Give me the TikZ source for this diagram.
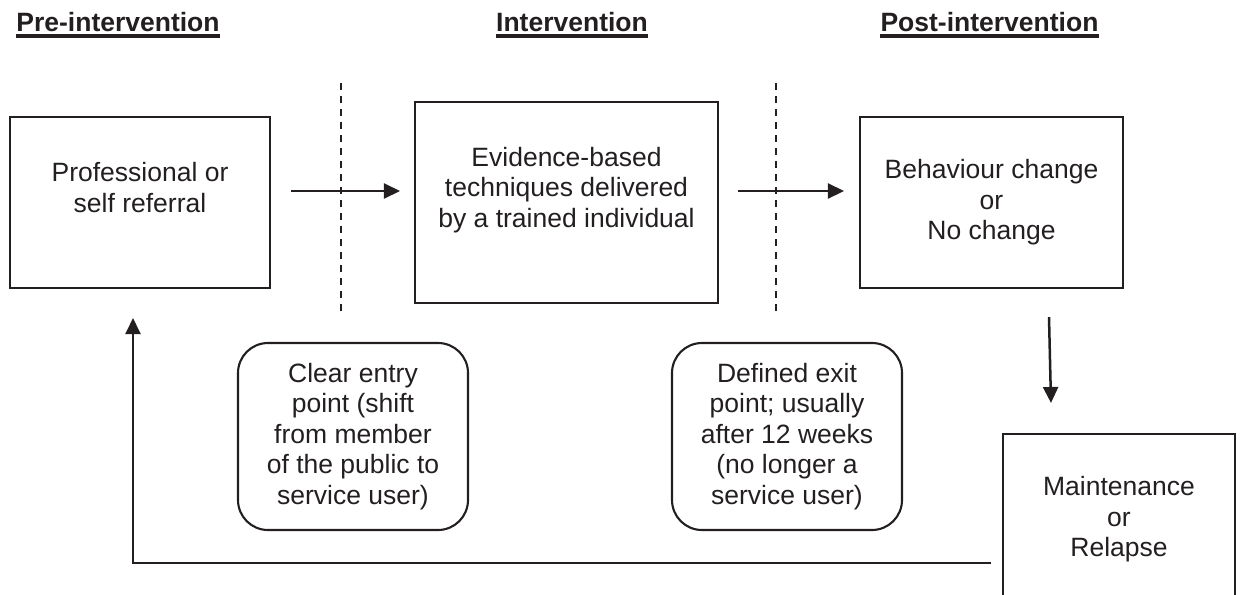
\documentclass[tikz,border=0pt]{standalone}
\usepackage{fontspec}
\setmainfont{Liberation Sans}
\usetikzlibrary{arrows.meta}
\definecolor{ink}{RGB}{35,31,32}
\begin{document}
\begin{tikzpicture}[x=1pt,y=-1pt,
  every node/.style={text=ink, font=\fontsize{26.5}{30.5}\selectfont},
  stagebox/.style={draw=ink, line width=2.1pt, inner sep=0pt, align=center},
  notebox/.style={stagebox, rounded corners=30pt, minimum width=230pt, minimum height=187pt},
  head/.style={font=\fontsize{26.5}{30.5}\selectfont\bfseries, inner sep=0pt, anchor=base},
  headline/.style={draw=ink, line width=3.2pt},
  arr/.style={draw=ink, line width=2.5pt, -{Triangle[length=16pt,width=15pt]}},
  divider/.style={draw=ink, line width=1.6pt, dash pattern=on 7pt off 6pt}]
\useasboundingbox (0,0) rectangle (1241,594);
\begin{scope}
\clip (0,0) rectangle (1241,594);

% phase headings
\node[head] (hpre)  at (118,32)   {Pre-intervention};
\node[head] (hint)  at (572,32)   {Intervention};
\node[head] (hpost) at (989.5,32) {Post-intervention};
\foreach \h in {hpre,hint,hpost}
  \draw[headline] ([yshift=-4pt]\h.base west) -- ([yshift=-4pt]\h.base east);

% phase dividers
\draw[divider] (341,83) -- (341,313);
\draw[divider] (776,83) -- (776,313);

% stages
\node[stagebox, minimum width=260pt, minimum height=171pt] (refer) at (140,202.5)
  {Professional or\\self referral\\\mbox{}};
\node[stagebox, minimum width=303pt, minimum height=201pt] (tech) at (566.5,202.5)
  {Evidence-based\\techniques delivered\\by a trained individual\\\mbox{}};
\node[stagebox, minimum width=263pt, minimum height=171pt] (change) at (991.5,202.5)
  {Behaviour change\\or\\No change};
\node[stagebox, minimum width=232pt, minimum height=171pt] (maint) at (1119,519.5)
  {Maintenance\\or\\Relapse};

% entry and exit notes
\node[notebox] (entry) at (353,436.5)
  {Clear entry\\point (shift\\from member\\of the public to\\service user)};
\node[notebox] (exit) at (787,436.5)
  {Defined exit\\point; usually\\after 12 weeks\\(no longer a\\service user)};

% flow
\draw[arr] ([shift={(20,-11.5)}]refer.east) -- ([shift={(-14,-11.5)}]tech.west);
\draw[arr] ([shift={(19,-11.5)}]tech.east) -- ([shift={(-15,-11.5)}]change.west);
\draw[arr] ([shift={(57.5,28)}]change.south) -- ([shift={(-68,-30)}]maint.north);
\draw[arr] ([shift={(-11,43.5)}]maint.west) -| ([shift={(-7,29)}]refer.south);
\end{scope}
\end{tikzpicture}
\end{document}
